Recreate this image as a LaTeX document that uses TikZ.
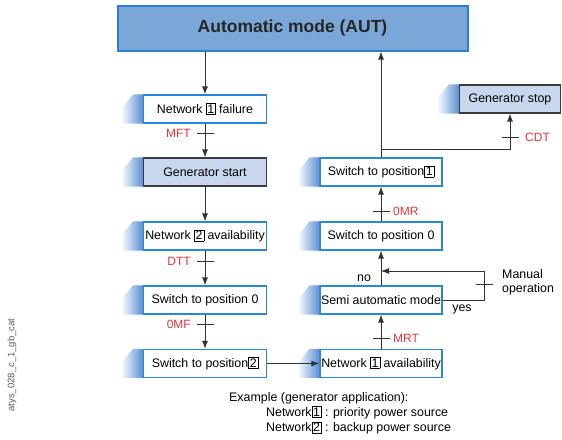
\documentclass[tikz,border=0pt]{standalone}
\usepackage{fontspec}
\setmainfont{Liberation Sans}
\usetikzlibrary{arrows.meta,calc}
\definecolor{autfill}{HTML}{7BA6D8}
\definecolor{autline}{HTML}{2B80CF}
\definecolor{boxline}{HTML}{2A86D6}
\definecolor{lightfill}{HTML}{C8D7EE}
\definecolor{darkline}{HTML}{3A3A3A}
\definecolor{tabblue}{HTML}{5A8FD3}
\definecolor{conn}{HTML}{333333}
\definecolor{redlab}{HTML}{E0353F}
\newcommand\nbx[1]{{\setlength\fboxsep{1pt}\setlength\fboxrule{0.5pt}\fbox{#1}}}
\newcommand\tabfor[1]{\shade[left color=white,right color=tabblue] ([xshift=-10pt]#1.north west) -- ([xshift=-22pt]#1.west) -- ([xshift=-22pt]#1.south west) -- (#1.south west) -- (#1.north west) -- cycle;}
\newcommand\tickat[1]{\draw[conn,line width=0.8pt] ([xshift=-8.5pt]#1) -- ([xshift=8.5pt]#1);}
\tikzset{
  wbox/.style={draw=boxline,line width=1.2pt,fill=white,minimum width=123pt,minimum height=28pt,inner sep=0pt,font=\fontsize{12.4}{14}\selectfont},
  lbox/.style={draw=darkline,line width=1.2pt,fill=lightfill,minimum width=123pt,minimum height=28pt,inner sep=0pt,font=\fontsize{12.4}{14}\selectfont},
  arr/.style={draw=conn,line width=0.9pt,-{Latex[length=8pt,width=6pt]}},
  ln/.style={draw=conn,line width=0.9pt},
  rlab/.style={text=redlab,font=\fontsize{12}{14}\selectfont,inner sep=0pt},
  plain/.style={font=\fontsize{12.4}{14}\selectfont,inner sep=0pt},
}
\begin{document}
\begin{tikzpicture}[x=1pt,y=-1pt]
\useasboundingbox (0,0) rectangle (562,439);
% title
\node[draw=autline,line width=2pt,fill=autfill,minimum width=350pt,minimum height=45pt,inner sep=0pt,font=\fontsize{17.5}{20}\bfseries\selectfont,text=black!85] (aut) at (292.5,28) {Automatic mode (AUT)};
% left column
\node[wbox] (nf) at (205,109) {Network \nbx{1} failure};
\node[lbox] (gs) at (205,172) {Generator start};
\node[wbox] (na2) at (205,236) {Network \nbx{2} availability};
\node[wbox] (sl0) at (205,300) {Switch to position 0};
\node[wbox] (sp2) at (205,363.5) {Switch to position\nbx{2}};
% right column
\node[wbox,minimum width=122pt] (sp1) at (381,172) {Switch to position\nbx{1}};
\node[wbox,minimum width=122pt] (sr0) at (381,236) {Switch to position 0};
\node[wbox,minimum width=122pt] (sam) at (381,300) {Semi automatic mode};
\node[wbox,minimum width=122pt] (na1) at (381,363.5) {Network \nbx{1} availability};
\node[lbox,minimum width=101pt] (gst) at (510,99) {Generator stop};
% tabs
\tabfor{nf}\tabfor{gs}\tabfor{na2}\tabfor{sl0}\tabfor{sp2}
\tabfor{sp1}\tabfor{sr0}\tabfor{sam}\tabfor{na1}\tabfor{gst}
% left connectors
\draw[arr] (aut.south -| nf.north) -- (nf.north);
\draw[arr] (nf.south) -- (gs.north);
\coordinate (t1) at (205,133); \tickat{t1}
\node[rlab,anchor=east] (mft) at ([xshift=-14pt]t1) {MFT};
\draw[arr] (gs.south) -- (na2.north);
\draw[arr] (na2.south) -- (sl0.north);
\coordinate (t2) at (205,261); \tickat{t2}
\node[rlab,anchor=east] (dtt) at ([xshift=-14pt]t2) {DTT};
\draw[arr] (sl0.south) -- (sp2.north);
\coordinate (t3) at (205,324); \tickat{t3}
\node[rlab,anchor=east] (omf) at ([xshift=-14pt]t3) {0MF};
\draw[arr] (sp2.east) -- (na1.west);
% right connectors
\draw[arr] (na1.north) -- (sam.south);
\coordinate (t4) at (381,338); \tickat{t4}
\node[rlab,anchor=west] (mrt) at ([xshift=12pt]t4) {MRT};
\draw[arr] (sam.north) -- (sr0.south);
\draw[arr] (sr0.north) -- (sp1.south);
\coordinate (t5) at (381,211); \tickat{t5}
\node[rlab,anchor=west] (omr) at ([xshift=12pt]t5) {0MR};
\draw[arr] (sp1.north) -- (aut.south -| sp1.north);
\coordinate (j) at (381,149);
\draw[arr] (j) -| (gst.south);
\coordinate (t6) at (510,137); \tickat{t6}
\node[rlab,anchor=west] (cdt) at ([xshift=15pt]t6) {CDT};
% manual operation loop
\coordinate (m1) at (484,300);
\coordinate (m2) at (484,271);
\draw[arr] (sam.east) -- (m1) -- (m2) -- (m2 -| sam.north);
\coordinate (t7) at (484,284); \tickat{t7}
\node[plain,align=left,anchor=west] (man) at (502,282) {Manual\\operation};
\node[plain] (no) at (364,278) {no};
\node[plain] (yes) at (462,309) {yes};
% example
\node[plain,anchor=west] (ex1) at (229,398) {Example (generator application):};
\node[plain,anchor=west] (ex2) at (266,412.5) {Network\nbx{1} : priority power source};
\node[plain,anchor=west] (ex3) at (266,428) {Network\nbx{2} : backup power source};
% side label
\node[rotate=90,text=black!65,font=\fontsize{9.5}{11}\selectfont,inner sep=0pt] (side) at (12,365) {atys\_028\_c\_1\_gb\_cat};
\end{tikzpicture}
\end{document}
